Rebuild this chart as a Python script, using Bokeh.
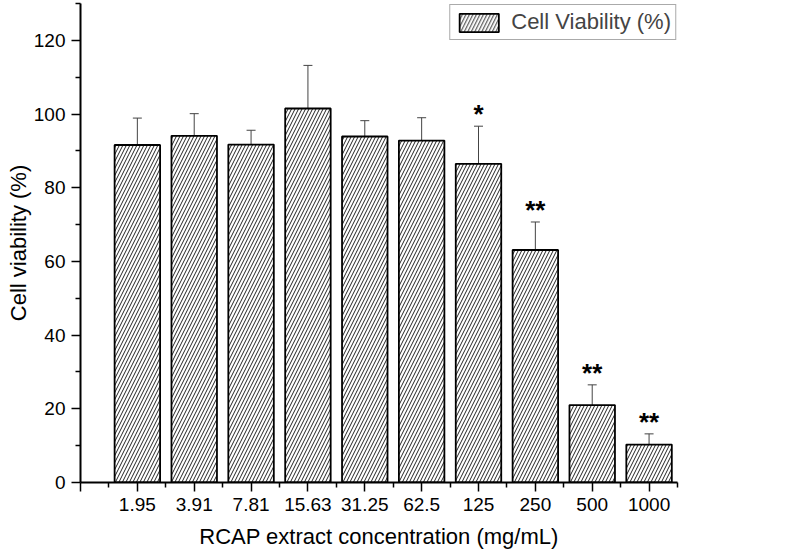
from bokeh.plotting import figure
from bokeh.models import ColumnDataSource, FixedTicker, Whisker, TeeHead, Legend, LegendItem, Range1d
from bokeh.core.properties import value
from bokeh.embed import file_html
from bokeh.resources import INLINE

concentrations = ["1.95", "3.91", "7.81", "15.63", "31.25", "62.5", "125", "250", "500", "1000"]
viability = [91.6, 94.1, 91.7, 101.5, 93.9, 92.8, 86.5, 63.1, 21.0, 10.3]
errors = [7.3, 6.0, 3.9, 11.7, 4.3, 6.2, 10.2, 7.6, 5.5, 2.9]
significance = ["", "", "", "", "", "", "*", "**", "**", "**"]
y_ticks = [0, 20, 40, 60, 80, 100, 120]

FONT = "Liberation Sans"

xs = [i + 1 for i in range(len(concentrations))]
src = ColumnDataSource(dict(
    x=xs,
    top=viability,
    upper=[v + e for v, e in zip(viability, errors)],
    lower=[v - e for v, e in zip(viability, errors)],
    sig=significance,
))

p = figure(width=792, height=551, output_backend="svg", toolbar_location=None,
           x_range=Range1d(0, len(concentrations) + 0.5), y_range=Range1d(0, 130),
           min_border_left=80, min_border_right=115, min_border_top=3, min_border_bottom=66)
p.outline_line_color = None
p.xgrid.visible = False
p.ygrid.visible = False
p.background_fill_color = "white"
p.border_fill_color = "white"

bars = p.vbar(x="x", top="top", width=0.8, source=src, fill_color="white",
              line_color="black", line_width=1.8,
              hatch_pattern="/", hatch_color="#222222", hatch_weight=1, hatch_scale=7)

whisk = Whisker(base="x", upper="upper", lower="lower", source=src,
                line_color="#444444", line_width=1,
                upper_head=TeeHead(size=9, line_color="#444444", line_width=1),
                lower_head=TeeHead(size=9, line_color="#444444", line_width=1))
p.add_layout(whisk)

p.text(x="x", y="upper", text="sig", source=src, text_align="center",
       text_baseline="bottom", y_offset=3, text_font=value(FONT), text_font_size="26px",
       text_font_style="bold", text_color="black")

# axes
p.xaxis.ticker = FixedTicker(ticks=[0] + xs, minor_ticks=[i + 0.5 for i in range(len(concentrations) + 1)])
overrides = {0: ""}
for xv, c in zip(xs, concentrations):
    overrides[xv] = c
p.xaxis.major_label_overrides = overrides
p.yaxis.ticker = FixedTicker(ticks=y_ticks, minor_ticks=[t + 10 for t in y_ticks])

for ax in (p.xaxis[0], p.yaxis[0]):
    ax.axis_line_width = 2
    ax.axis_line_color = "black"
    ax.major_tick_line_color = "black"
    ax.minor_tick_line_color = "black"
    ax.major_tick_line_width = 1.5
    ax.minor_tick_line_width = 1.5
    ax.major_tick_in = 0
    ax.major_tick_out = 9
    ax.minor_tick_in = 0
    ax.minor_tick_out = 5
    ax.major_label_text_font = FONT
    ax.major_label_text_font_size = "19px"
    ax.major_label_text_color = "black"
    ax.axis_label_text_font = FONT
    ax.axis_label_text_font_size = "22px"
    ax.axis_label_text_font_style = "normal"
    ax.axis_label_text_color = "black"

p.xaxis.axis_label = "RCAP extract concentration (mg/mL)"
p.yaxis.axis_label = "Cell viability (%)"
p.xaxis.major_label_standoff = 6
p.xaxis.axis_label_standoff = 10
p.yaxis.major_label_standoff = 6
p.yaxis.axis_label_standoff = 0

legend = Legend(items=[LegendItem(label="Cell Viability (%)", renderers=[bars])],
                location="top_right", margin=1, padding=4, spacing=0,
                glyph_width=49, glyph_height=23, label_standoff=8,
                label_text_font=FONT, label_text_font_size="22px",
                label_height=23, border_line_color="#555555", border_line_width=1,
                background_fill_alpha=1.0)
p.add_layout(legend)

open("out.html", "w").write(file_html(p, INLINE))
